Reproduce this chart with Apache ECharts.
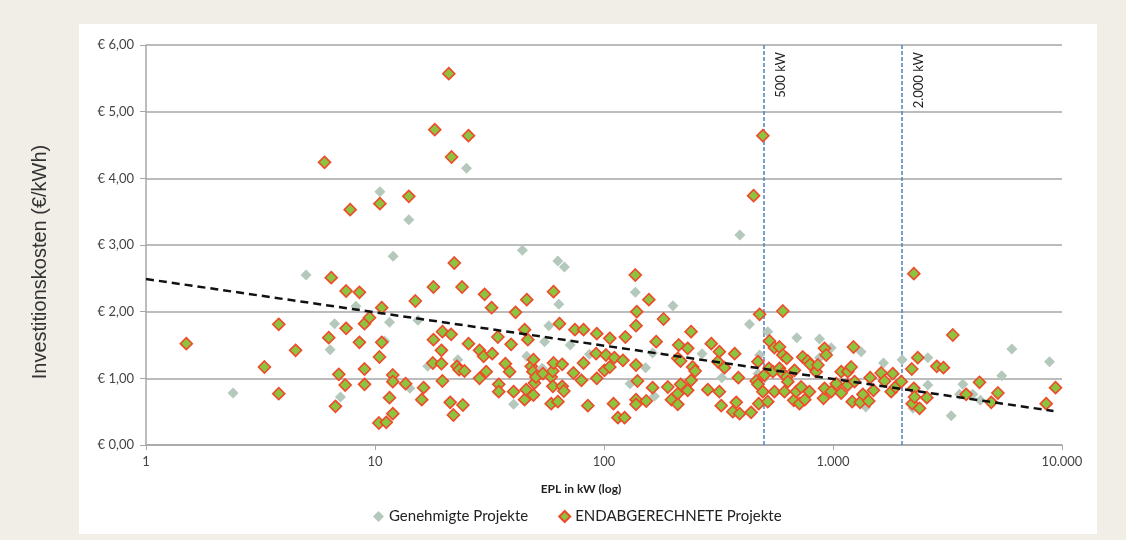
<!DOCTYPE html>
<html><head><meta charset="utf-8">
<script src="https://cdn.jsdelivr.net/npm/echarts@6/dist/echarts.min.js"></script>
<style>html,body{margin:0;padding:0;background:#f1eee8;}#c{width:1126px;height:540px;}</style>
</head><body><div id="c"></div>
<script>
// Genehmigte Projekte (kW, €/kWh)
const genX = [2.4,5.0,6.66,6.37,7.07,8.25,10.5,11.0,11.57,12.0,14.05,14.2,15.4,17.0,23.0,25.1,40.3,44,46.0,53.7,55,57.4,62.9,63.5,67.2,71.2,86.4,130,137,152,163,166,200,268,327,392,432,470,478,494,519,695,873,873,982,1327,1390,1662,2004,2237,2594,2594,3281,3567,3690,4080,4400,5458,6040,8820];
const genY = [0.78,2.55,1.82,1.43,0.72,2.08,3.80,1.56,1.84,2.83,3.38,0.85,1.87,1.18,1.28,4.15,0.61,2.92,1.33,1.15,1.55,1.79,2.76,2.11,2.67,1.50,1.36,0.92,2.29,1.16,1.38,0.73,2.09,1.37,1.01,3.15,1.81,1.07,1.35,0.98,1.70,1.61,1.59,1.31,1.46,1.40,0.57,1.23,1.28,0.55,1.31,0.90,0.44,0.76,0.91,0.76,0.67,1.04,1.44,1.25];
// ENDABGERECHNETE Projekte (kW, €/kWh)
const endX = [1.50,3.29,3.8,3.8,4.5,6.02,6.28,6.44,6.72,6.95,7.41,7.48,7.48,7.79,8.55,8.55,9.0,9.0,9.0,9.46,10.4,10.46,10.5,10.7,10.7,11.2,11.57,11.96,11.96,11.96,
 13.6,14.05,15.0,16.0,16.3,17.9,18.0,18.0,18.24,19.5,19.5,19.7,19.7,21.0,21.3,21.5,21.6,22.0,22.2,22.8,23.3,24.0,24.2,24.6,25.6,25.6,28.6,28.6,29.8,30.1,30.6,32.3,32.5,34.4,34.7,34.7,37.1,38.7,39.3,40.3,41.1,45.0,45.0,45.7,46.0,46.5,48.1,48.9,49.2,49.2,49.7,50.5,54.1,58.8,58.8,59.8,59.8,60.2,60.2,62.9,63.9,65.7,65.7,66.8,73.6,74.6,79.7,81.4,81.4,85.0,92.4,93.0,93.0,100.5,102,106,106,110,111,115,121,123,124,137,138,138,138,138,139,140,153,157,163,169,182,190,197,210,210,210,212,216,216,232,232,240,240,244,250,
 284,294,314,319,319,325,336,365,372,378,386,391,439,450,462,470,470,474,478,494,494,502,519,525,528,546,555,555,584,584,604,604,604,614,628,628,635,674,679,691,714,726,738,753,776,789,795,844,859,909,918,918,934,982,1033,1086,1086,1160,1160,1200,1213,1229,1242,1314,1350,1433,1453,1503,1623,1680,1795,1824,1875,1986,2208,2218,2254,2254,2270,2345,2388,2569,2839,3037,3336,3815,4362,4910,5250,8530,9370];
const endY = [1.52,1.17,1.81,0.77,1.42,4.24,1.61,2.51,0.58,1.06,0.90,2.31,1.75,3.53,2.29,1.54,1.82,1.14,0.91,1.91,0.33,1.32,3.62,2.06,1.54,0.34,0.71,1.05,0.95,0.47,
 0.92,3.73,2.16,0.68,0.86,1.23,2.37,1.58,4.73,1.42,1.22,1.70,0.96,5.57,0.64,1.66,4.32,0.45,2.73,1.18,1.13,2.37,0.60,1.11,4.64,1.52,1.42,1.00,1.33,2.26,1.10,2.06,1.37,1.62,0.91,0.80,1.22,1.10,1.51,0.80,1.99,1.73,0.68,0.83,2.18,1.58,1.18,1.10,1.28,0.75,0.93,1.02,1.07,1.02,0.62,1.11,0.88,2.30,1.23,0.65,1.82,1.21,0.88,0.81,1.08,1.73,0.97,1.73,1.23,0.59,1.37,1.67,1.00,1.12,1.35,1.60,1.17,0.62,1.31,0.41,1.27,0.41,1.62,2.55,1.79,1.20,0.68,0.61,2.00,0.96,0.66,2.18,0.86,1.55,1.89,0.87,0.68,1.30,0.77,0.61,1.50,1.26,0.91,1.45,0.82,1.70,0.97,1.17,1.11,
 0.83,1.52,1.25,1.40,0.80,0.59,1.16,0.50,1.37,0.64,1.01,0.47,0.49,3.74,0.96,1.25,0.91,0.62,1.96,4.64,0.80,1.05,0.65,1.15,1.56,1.10,1.46,0.80,1.47,1.15,2.01,1.35,1.07,0.80,1.30,1.02,0.95,0.67,1.12,0.80,0.62,0.87,1.32,0.68,1.26,0.80,1.21,1.10,1.20,0.70,1.45,0.85,1.35,0.80,0.92,1.10,0.78,1.10,0.90,1.17,0.65,1.47,0.95,0.64,0.76,0.66,1.01,0.82,1.08,0.96,0.80,1.07,0.87,0.95,1.14,0.62,2.57,0.85,0.72,1.31,0.55,0.71,1.18,1.16,1.65,0.76,0.94,0.64,0.78,0.62,0.86];
// Trend line (start/end)
const trendX = [1, 9180];
const trendY = [2.49, 0.51];
// Reference lines
const refX = [500, 2000];
const refLabels = ['500 kW', '2.000 kW'];
const xTicks = {1:'1',10:'10',100:'100',1000:'1.000',10000:'10.000'};
const seriesNames = ['Genehmigte Projekte', 'ENDABGERECHNETE Projekte'];

const zip = (a,b)=>a.map((v,i)=>[v,b[i]]);
const chart = echarts.init(document.getElementById('c'), null, {renderer:'canvas'});
const font = 'Lato, "Open Sans", sans-serif';
const baseGraphic = [
  {type:'rect', left:79, top:24, shape:{width:1018, height:510}, style:{fill:'#ffffff'}, z:-10, silent:true},
  {type:'text', x:40, y:262, rotation:Math.PI/2, style:{text:'Investitionskosten (€/kWh)', font:'20px "Liberation Sans", Arial, sans-serif', fill:'#333', align:'center', verticalAlign:'middle'}, z:5}
];
chart.setOption({
  backgroundColor: '#f1eee8',
  animation: false,
  graphic: baseGraphic,
  grid: {left:146, right:64, top:45, bottom:95, containLabel:false},
  xAxis: {
    type:'log', logBase:10, min:1, max:10000,
    name:'EPL in kW (log)', nameLocation:'middle', nameGap:38,
    nameTextStyle:{fontFamily:font, fontWeight:'bold', fontSize:12, color:'#222', padding:[0,46,0,0]},
    axisLine:{show:true, lineStyle:{color:'#a6a6a6', width:1.5}},
    axisTick:{show:true, length:5, lineStyle:{color:'#a6a6a6'}},
    axisLabel:{fontFamily:font, fontSize:13, color:'#444', margin:10, formatter:v=>xTicks[Math.round(v)]||''},
    splitLine:{show:false},
    minorTick:{show:false}
  },
  yAxis: {
    type:'value', min:0, max:6, interval:1,
    axisLine:{show:true, lineStyle:{color:'#a6a6a6', width:1.5}},
    axisTick:{show:true, length:6, lineStyle:{color:'#a6a6a6'}},
    axisLabel:{fontFamily:font, fontSize:13, color:'#444', margin:12, formatter:v=>'€ '+v.toFixed(2).replace('.',',')},
    splitLine:{show:true, lineStyle:{color:'#a6a6a6', width:1.5}}
  },
  legend: {
    left:368, top:504, itemGap:30, itemWidth:11, itemHeight:11,
    textStyle:{fontFamily:font, fontSize:15, color:'#222'},
    data:[
      {name:seriesNames[0], icon:'diamond'},
      {name:seriesNames[1], icon:'diamond'}
    ]
  },
  series: [
    {
      name:seriesNames[0], type:'scatter', symbol:'diamond', symbolSize:11,
      itemStyle:{color:'#b4c8bb', opacity:1},
      data: zip(genX, genY), z:2
    },
    {
      name:seriesNames[1], type:'scatter', symbol:'diamond', symbolSize:12,
      itemStyle:{color:'#8cc43f', borderColor:'#ef4a2a', borderWidth:1.6, opacity:1},
      data: zip(endX, endY), z:3
    },
    {
      name:'Trend', type:'line', symbol:'none', z:4,
      lineStyle:{color:'#111', width:2.5, type:[8,5]},
      data: zip(trendX, trendY),
      markLine:{
        silent:true, symbol:'none', z:1,
        lineStyle:{color:'#4f81bd', width:1.5, type:[4,2]},
        label:{show:false},
        data: refX.map(x=>({xAxis:x}))
      }
    }
  ]
});
// Reference line labels placed via the axis scale
const topY = chart.convertToPixel({yAxisIndex:0}, 6);
const labelGraphics = refX.map((x,i)=>({
  type:'text', x: chart.convertToPixel({xAxisIndex:0}, x) + 17, y: topY + 7,
  rotation: Math.PI/2,
  style:{text: refLabels[i], font:'13px Lato, "Open Sans", sans-serif', fill:'#222', align:'right', verticalAlign:'middle'}, z:6
}));
chart.setOption({graphic: baseGraphic.concat(labelGraphics)});
</script></body></html>
